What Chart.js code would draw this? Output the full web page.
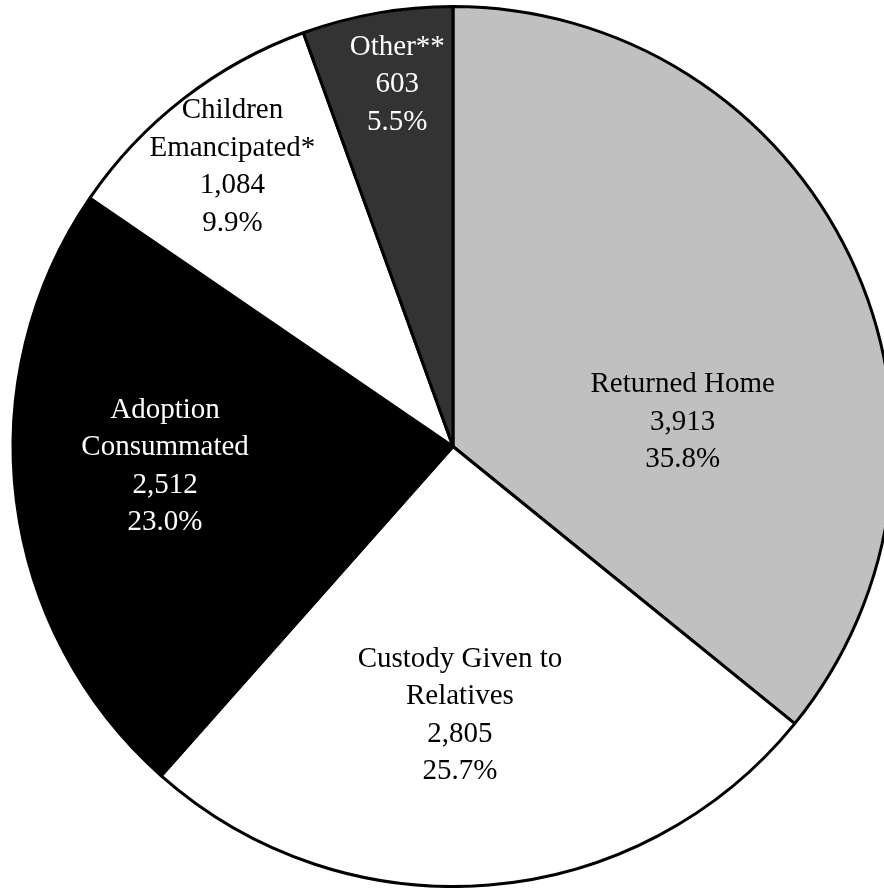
<!DOCTYPE html>
<html>
<head>
<meta charset="utf-8">
<script src="https://cdn.jsdelivr.net/npm/chart.js@4.4.1/dist/chart.umd.min.js"></script>
<style>
  html, body { margin:0; padding:0; background:#fff; overflow:hidden; width:884px; height:888px; }
  #wrap { position:absolute; left:0; top:0; width:906px; height:888px; }
</style>
</head>
<body>
<div id="wrap"><canvas id="pieChart" width="906" height="888"></canvas></div>
<script>
const categories = [
  ["Returned Home"],
  ["Custody Given to", "Relatives"],
  ["Adoption", "Consummated"],
  ["Children", "Emancipated*"],
  ["Other**"]
];
const counts = [3913, 2805, 2512, 1084, 603];
const sliceColors = ["#c0c0c0", "#ffffff", "#000000", "#ffffff", "#333333"];
const textColors = ["#000", "#000", "#fff", "#000", "#fff"];

// where each label sits: fraction along the arc, fraction of radius
const labelAngleFrac = [0.651, 0.535, 0.537, 0.485, 0.56];
const labelRadiusFrac = [0.525, 0.611, 0.656, 0.809, 0.832];

const total = counts.reduce((a,b)=>a+b, 0);

const sliceLabels = {
  id: "sliceLabels",
  afterDatasetsDraw(chart) {
    const ctx = chart.ctx;
    const arcs = chart.getDatasetMeta(0).data;
    ctx.save();
    ctx.font = "29px 'Liberation Serif', 'Times New Roman', serif";
    ctx.textAlign = "center";
    ctx.textBaseline = "middle";
    arcs.forEach((arc, i) => {
      const {x, y, startAngle, endAngle, outerRadius} = arc.getProps(["x","y","startAngle","endAngle","outerRadius"], true);
      const a = startAngle + labelAngleFrac[i] * (endAngle - startAngle);
      const r = outerRadius * labelRadiusFrac[i];
      const cx = x + Math.cos(a) * r;
      const cy = y + Math.sin(a) * r;
      const lines = [...categories[i], counts[i].toLocaleString("en-US"), (counts[i] / total * 100).toFixed(1) + "%"];
      const lh = 37.5;
      const top = cy - (lines.length - 1) * lh / 2;
      ctx.fillStyle = textColors[i];
      lines.forEach((t, k) => ctx.fillText(t, cx, top + k * lh));
    });
    ctx.restore();
  }
};

new Chart(document.getElementById("pieChart"), {
  type: "pie",
  data: {
    labels: categories.map(c => c.join(" ")),
    datasets: [{
      data: counts,
      backgroundColor: sliceColors,
      borderColor: "#000",
      borderWidth: 3,
      hoverOffset: 0
    }]
  },
  options: {
    responsive: false,
    animation: false,
    layout: { padding: { top: 5, bottom: 0, left: 0, right: 0 } },
    plugins: {
      legend: { display: false },
      tooltip: { enabled: false }
    }
  },
  plugins: [sliceLabels]
});
</script>
</body>
</html>
